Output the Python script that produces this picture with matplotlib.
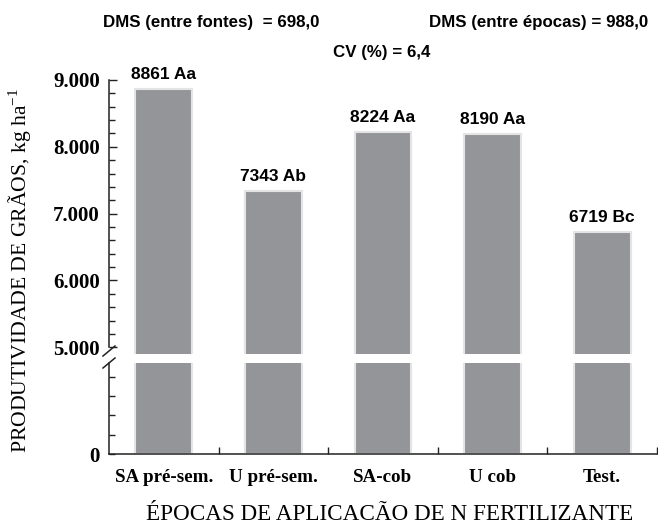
import matplotlib
matplotlib.use("Agg")
import matplotlib.pyplot as plt
from matplotlib.ticker import MultipleLocator, FixedLocator, NullFormatter

categories = ["SA pré-sem.", "U pré-sem.", "SA-cob", "U cob", "Test."]
yields = [8861, 7343, 8224, 8190, 6719]
letters = ["Aa", "Ab", "Aa", "Aa", "Bc"]
upper_ticks = [5000, 6000, 7000, 8000, 9000]
upper_ticklabels = ["5.000", "6.000", "7.000", "8.000", "9.000"]
lower_ticks = [0, 1000, 2000, 3000, 4000]
lower_ticklabels = ["0", "", "", "", ""]

plt.rcParams['mathtext.fontset'] = 'custom'
plt.rcParams['mathtext.rm'] = 'Liberation Serif'

W, H = 658, 527
fig = plt.figure(figsize=(W / 100, H / 100), dpi=100)

left = 109 / W
width = 548 / W
ax_top = fig.add_axes([left, 1 - 354 / H, width, (354 - 80) / H])
ax_bot = fig.add_axes([left, 1 - 454 / H, width, (454 - 363) / H])

xpos = [i + 0.5 for i in range(len(categories))]
bar_color = '#939598'
edge_color = '#e4e4e4'
spine_color = '#222222'

for ax in (ax_top, ax_bot):
    ax.bar(xpos, yields, width=0.52, color=bar_color, edgecolor=edge_color,
           linewidth=1.5, zorder=2)
    ax.set_xlim(0, len(categories))
    for s in ('top', 'right'):
        ax.spines[s].set_visible(False)
    ax.spines['left'].set_color(spine_color)
    ax.spines['left'].set_linewidth(1.1)
    ax.spines['bottom'].set_color(spine_color)
    ax.spines['bottom'].set_linewidth(1.1)

# upper axis
ax_top.set_ylim(4900, 9000)
ax_top.spines['bottom'].set_visible(False)
ax_top.spines['left'].set_bounds(5000, 9000)
ax_top.set_xticks([])
ax_top.yaxis.set_major_locator(FixedLocator(upper_ticks))
ax_top.set_yticklabels(upper_ticklabels)
ax_top.yaxis.set_minor_locator(MultipleLocator(200))
ax_top.tick_params(axis='y', which='major', direction='in', length=6, width=1.0,
                   color=spine_color, pad=6.5)
ax_top.tick_params(axis='y', which='minor', direction='in', length=4, width=1.0,
                   color=spine_color)
for lab in ax_top.get_yticklabels():
    lab.set_fontfamily('Liberation Serif')
    lab.set_fontweight('bold')
    lab.set_fontsize(15)

# lower axis
ax_bot.set_ylim(0, 4700)
ax_bot.spines['left'].set_bounds(0, 4700)
ax_bot.yaxis.set_major_locator(FixedLocator(lower_ticks))
ax_bot.set_yticklabels(lower_ticklabels)
ax_bot.tick_params(axis='y', which='major', direction='in', length=4, width=1.0,
                   color=spine_color, pad=6.5)
for lab in ax_bot.get_yticklabels():
    lab.set_fontfamily('Liberation Serif')
    lab.set_fontweight('bold')
    lab.set_fontsize(15)

ax_bot.xaxis.set_major_locator(FixedLocator([1, 2, 3, 4, 5]))
ax_bot.xaxis.set_major_formatter(NullFormatter())
ax_bot.xaxis.set_minor_locator(FixedLocator(xpos))
ax_bot.set_xticklabels(categories, minor=True)
ax_bot.tick_params(axis='x', which='major', direction='in', length=5, width=1.0,
                   color=spine_color)
ax_bot.tick_params(axis='x', which='minor', length=0, pad=10.5)
for lab in ax_bot.get_xticklabels(minor=True):
    lab.set_fontfamily('Liberation Serif')
    lab.set_fontweight('bold')
    lab.set_fontsize(13.7)

# break marks
dx = 6 / 548
ax_top.plot([-dx, dx], [-2 / 274, 8 / 274], transform=ax_top.transAxes,
            color=spine_color, lw=1.1, clip_on=False)
ax_bot.plot([-dx, dx], [(454 - 368) / 91, (454 - 358) / 91], transform=ax_bot.transAxes,
            color=spine_color, lw=1.1, clip_on=False)

# value labels
for x, v, l in zip(xpos, yields, letters):
    ax_top.annotate(f"{v} {l}", (x, v), xytext=(0, 10.5), textcoords='offset points',
                    ha='center', va='center', fontfamily='Liberation Sans',
                    fontweight='bold', fontsize=12.5, annotation_clip=False)

# header texts
hdr = dict(ha='center', va='center', fontfamily='Liberation Sans', fontweight='bold',
           fontsize=12.2)
fig.text(211 / W, 1 - 23 / H, "DMS (entre fontes)  = 698,0", **hdr)
fig.text(539 / W, 1 - 23 / H, "DMS (entre épocas) = 988,0", **hdr)
fig.text(382 / W, 1 - 52 / H, "CV (%) = 6,4", **hdr)

# axis titles
fig.text(20 / W, 1 - 270 / H, r"PRODUTIVIDADE DE GRÃOS, kg ha$^{\mathregular{-1}}$",
         rotation=90, ha='center', va='center', fontfamily='Liberation Serif', fontsize=15.6)
fig.text(390 / W, 1 - 514 / H, "ÉPOCAS DE APLICACÃO DE N FERTILIZANTE",
         ha='center', va='center', fontfamily='Liberation Serif', fontsize=16.7)

fig.savefig("out.png", dpi=100)
